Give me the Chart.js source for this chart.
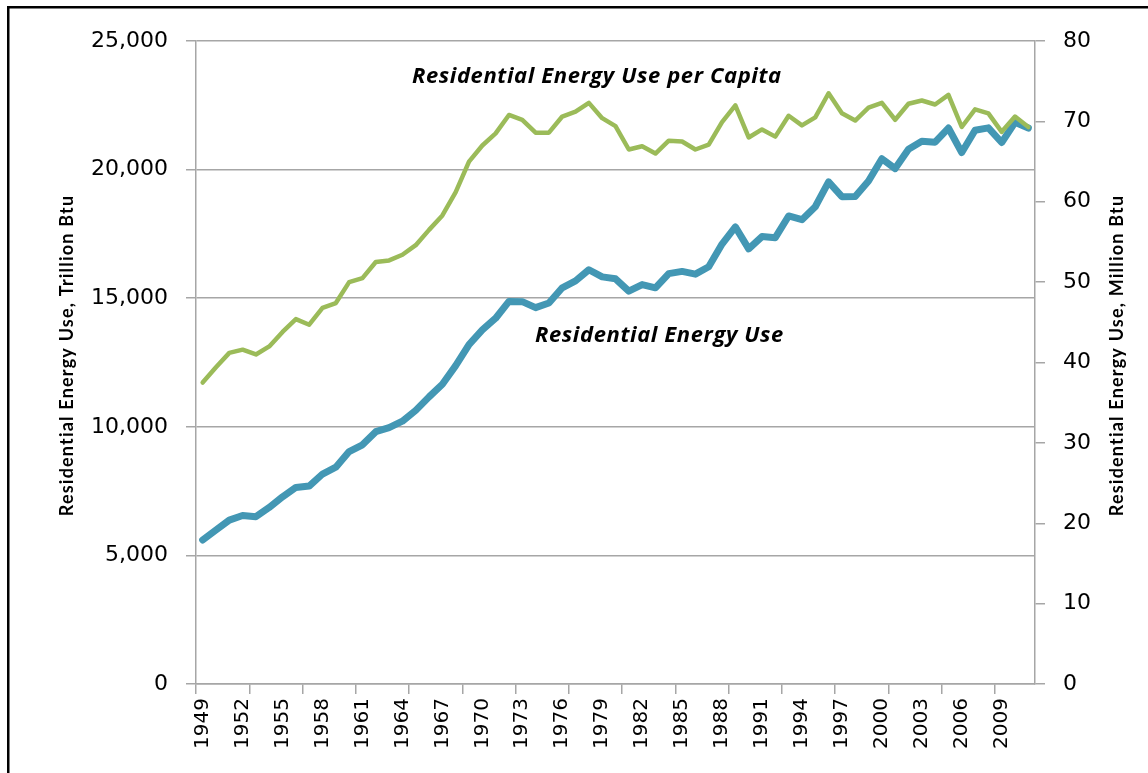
<!DOCTYPE html>
<html>
<head>
<meta charset="utf-8">
<script src="https://cdn.jsdelivr.net/npm/chart.js@4"></script>
<style>
  html, body { margin: 0; padding: 0; background: #fff; }
  #wrap { width: 1148px; height: 773px; }
</style>
</head>
<body>
<div id="wrap"><canvas id="chart"></canvas></div>
<script>
const years = [];
for (let y = 1949; y <= 2011; y++) years.push(String(y));

// Residential energy use, trillion Btu (left axis)
const energyUse = [
  5599, 5989, 6371, 6553, 6507, 6865, 7278, 7641, 7696, 8164,
  8428, 9039, 9300, 9810, 9969, 10218, 10639, 11164, 11656, 12378,
  13197, 13766, 14222, 14874, 14866, 14633, 14813, 15405, 15671, 16107,
  15828, 15753, 15276, 15528, 15405, 15954, 16042, 15936, 16225, 17106,
  17772, 16918, 17396, 17353, 18197, 18053, 18555, 19521, 18946, 18957,
  19559, 20424, 20039, 20788, 21099, 21065, 21616, 20663, 21530, 21623,
  21054, 21837, 21614
];

// Residential energy use per capita, million Btu (right axis)
const perCapita = [
  37.5, 39.4, 41.2, 41.6, 41.0, 42.0, 43.8, 45.4, 44.7, 46.8,
  47.4, 50.0, 50.5, 52.5, 52.7, 53.4, 54.6, 56.5, 58.3, 61.2,
  65.0, 67.0, 68.5, 70.8, 70.2, 68.6, 68.6, 70.6, 71.2, 72.3,
  70.4, 69.4, 66.5, 66.9, 66.0, 67.6, 67.5, 66.5, 67.1, 69.9,
  72.0, 68.0, 69.0, 68.1, 70.7, 69.5, 70.5, 73.5, 71.0, 70.1,
  71.7, 72.3, 70.2, 72.2, 72.6, 72.1, 73.3, 69.3, 71.5, 71.0,
  68.7, 70.6, 69.3
];

const leftTitle = 'Residential Energy Use, Trillion Btu';
const rightTitle = 'Residential Energy Use, Million Btu';
const gray = '#a6a6a6';
const blue = '#4397b4';
const green = '#9bbb59';

// text labels placed next to the lines, anchored on the scales
const notes = [
  { text: 'Residential Energy Use per Capita', index: 29.6, value: 75.5, axis: 'y2' },
  { text: 'Residential Energy Use', index: 34.3, value: 13530, axis: 'y' }
];

const extras = {
  id: 'extras',
  afterDraw(chart) {
    const ctx = chart.ctx;
    const area = chart.chartArea;
    ctx.save();
    // outer frame
    ctx.fillStyle = '#000';
    ctx.fillRect(7, 6, 2.5, chart.height);
    ctx.fillRect(7, 6, chart.width, 2.5);

    // axis titles, both reading bottom to top
    ctx.font = 'bold 18px Lato, "Open Sans", sans-serif';
    ctx.letterSpacing = '1.2px';
    ctx.textAlign = 'center';
    ctx.textBaseline = 'middle';
    const midY = (area.top + area.bottom) / 2 - 7;
    [[67, leftTitle], [1117, rightTitle]].forEach(([x, t]) => {
      ctx.save();
      ctx.translate(x, midY);
      ctx.rotate(-Math.PI / 2);
      ctx.fillText(t, 0, 0);
      ctx.restore();
    });

    ctx.font = 'italic bold 22px "Open Sans", Lato, sans-serif';
    ctx.letterSpacing = '0.6px';
    notes.forEach(n => {
      const x = chart.scales.x.getPixelForValue(n.index);
      const y = chart.scales[n.axis].getPixelForValue(n.value);
      ctx.fillText(n.text, x, y);
    });
    ctx.restore();
  }
};

new Chart(document.getElementById('chart'), {
  type: 'line',
  data: {
    labels: years,
    datasets: [
      {
        label: 'Residential Energy Use per Capita',
        data: perCapita,
        yAxisID: 'y2',
        borderColor: green,
        borderWidth: 4.5,
        pointRadius: 0,
        tension: 0,
        borderJoinStyle: 'round',
        borderCapStyle: 'round',
        order: 0
      },
      {
        label: 'Residential Energy Use',
        data: energyUse,
        yAxisID: 'y',
        borderColor: blue,
        borderWidth: 7,
        pointRadius: 0,
        tension: 0,
        borderJoinStyle: 'round',
        borderCapStyle: 'round',
        order: 1
      }
    ]
  },
  options: {
    responsive: true,
    maintainAspectRatio: false,
    animation: false,
    layout: { padding: { top: 41, left: 0, right: 0, bottom: 0 } },
    plugins: {
      legend: { display: false },
      tooltip: { enabled: false }
    },
    scales: {
      x: {
        offset: true,
        grid: {
          offset: true,
          drawOnChartArea: false,
          tickLength: 10,
          lineWidth: 1.5,
          color: ctx => (ctx.index % 4 === 0 ? gray : 'rgba(0,0,0,0)')
        },
        border: { color: gray, width: 1.5 },
        ticks: {
          autoSkip: false,
          minRotation: 90,
          maxRotation: 90,
          padding: 4,
          color: '#000',
          font: { family: '"DejaVu Sans"', size: 20 },
          callback: function (v, i) { return i % 3 === 0 ? this.getLabelForValue(v) : ''; }
        },
        afterFit: s => { s.height = 89; }
      },
      y: {
        position: 'left',
        min: 0,
        max: 25000,
        grid: { color: gray, lineWidth: 1.5, tickLength: 10 },
        border: { color: gray, width: 1.5 },
        ticks: {
          stepSize: 5000,
          padding: 18,
          color: '#000',
          font: { family: '"DejaVu Sans"', size: 22 }
        },
        afterFit: s => { s.width = 196; }
      },
      y2: {
        position: 'right',
        min: 0,
        max: 80,
        grid: { drawOnChartArea: false, color: gray, lineWidth: 1.5, tickLength: 10 },
        border: { color: gray, width: 1.5 },
        ticks: {
          stepSize: 10,
          padding: 18,
          color: '#000',
          font: { family: '"DejaVu Sans"', size: 22 }
        },
        afterFit: s => { s.width = 113; }
      }
    }
  },
  plugins: [extras]
});
</script>
</body>
</html>
